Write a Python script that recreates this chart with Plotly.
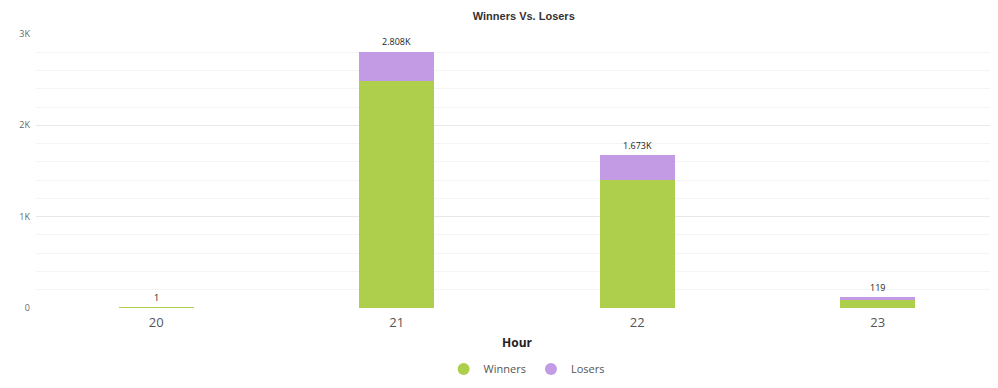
import plotly.graph_objects as go

hours = ["20", "21", "22", "23"]
winners = [1, 2485, 1400, 85]
losers = [None, 323, 273, 34]
total_labels = ["1", "2.808K", "1.673K", "119"]
y_tickvals = [0, 1000, 2000, 3000]
y_ticktext = ["0", "1K", "2K", "3K"]

totals = [w + (l or 0) for w, l in zip(winners, losers)]

GREEN = "#aecf4b"
PURPLE = "#c39be5"

fig = go.Figure()
fig.add_trace(go.Bar(x=hours, y=winners, name="Winners", marker=dict(color=GREEN, line=dict(width=0)),
                     showlegend=False, hoverinfo="x+y"))
fig.add_trace(go.Bar(x=hours, y=losers, name="Losers", marker=dict(color=PURPLE, line=dict(width=0)),
                     showlegend=False, hoverinfo="x+y"))
# legend entries with circle markers
fig.add_trace(go.Scatter(x=[None], y=[None], mode="markers", name="Winners",
                         marker=dict(symbol="circle", size=12, color=GREEN)))
fig.add_trace(go.Scatter(x=[None], y=[None], mode="markers", name="Losers",
                         marker=dict(symbol="circle", size=12, color=PURPLE)))

for i, (t, lab) in enumerate(zip(totals, total_labels)):
    fig.add_annotation(x=i, y=t, text=lab, showarrow=False, yanchor="middle", yshift=10,
                       font=dict(size=9, color="#222", family="Open Sans, sans-serif"))

fig.update_layout(
    width=990, height=380,
    barmode="stack", bargap=0.69,
    margin=dict(l=28, r=0, t=26, b=80),
    paper_bgcolor="white", plot_bgcolor="white",
    font=dict(family="Open Sans, sans-serif", color="#555"),
    title=dict(text="<b>Winners Vs. Losers</b>", x=0.521, xanchor="center", y=0.99, yanchor="top",
               font=dict(family="Liberation Sans, Arial, sans-serif", size=11, color="#333")),
    legend=dict(orientation="h", x=0.51, xanchor="center", y=-0.17, yanchor="top", traceorder="normal",
                font=dict(size=11, color="#555"), itemsizing="constant", itemwidth=30,
                tracegroupgap=0),
    xaxis=dict(type="category", categoryorder="array", categoryarray=hours, range=[-0.5, 3.5],
               showgrid=False, showline=False, zeroline=False, ticks="",
               tickfont=dict(size=13, color="#555"), ticklabelstandoff=5,
               title=dict(text="<b>Hour</b>", font=dict(size=12, color="#222"), standoff=8)),
    yaxis=dict(range=[0, 3000], tickvals=y_tickvals, ticktext=y_ticktext, showgrid=True,
               gridcolor="#e8e8e8", gridwidth=1, zeroline=False, showline=False,
               tickfont=dict(size=9, color="#666"), ticks="", ticklabelstandoff=5,
               minor=dict(dtick=200, showgrid=True, gridcolor="#f4f4f4", gridwidth=1)),
)

fig.write_html("out.html")
